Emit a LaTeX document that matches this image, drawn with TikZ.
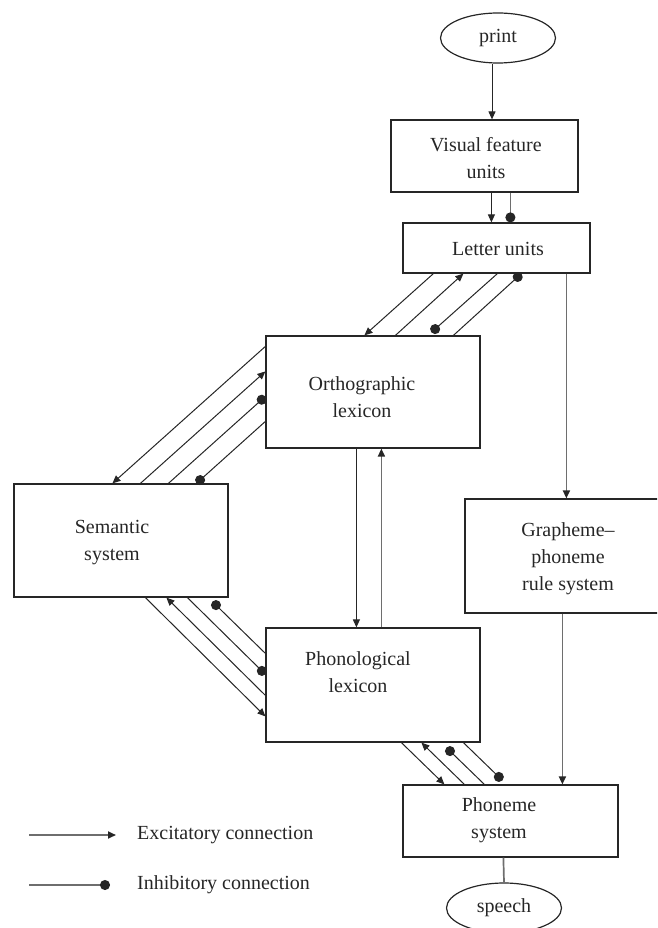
\documentclass[tikz,border=0pt]{standalone}
\usepackage{fontspec}
\setmainfont{Liberation Serif}
\usetikzlibrary{arrows.meta,calc,shapes.geometric}

\definecolor{ink}{HTML}{262626}
\definecolor{greyline}{HTML}{6E6E6E}

\begin{document}
\begin{tikzpicture}[x=1pt,y=-1pt,
  box/.style={draw=ink, line width=1.2pt, rectangle, inner sep=0pt},
  oval/.style={draw=ink, line width=1.2pt, ellipse, minimum width=115pt,
    minimum height=50pt, inner sep=0pt, font=\fontsize{20}{27}\selectfont, text=ink},
  lbl/.style={align=center, font=\fontsize{20}{27}\selectfont, text=ink, inner sep=0pt},
  exc/.style={draw=ink, line width=1pt, -{Triangle[length=8pt,width=7pt,color=ink]}},
  inh/.style={draw=ink, line width=1pt, -{Circle[length=10pt,color=ink]}},
  gexc/.style={exc, draw=greyline, line width=1.7pt},
  ginh/.style={inh, draw=greyline, line width=1.7pt},
  plain/.style={draw=greyline, line width=1.7pt},
]
\clip (0,0) rectangle (657,928);

% --- units and systems
\node[oval] (pr) at (498,38) {print};
\node[box, minimum width=187pt, minimum height=72pt] (vf) at (484.5,156) {};
\node[lbl] (vft) at (486,158.5) {Visual feature\\units};
\node[box, minimum width=187pt, minimum height=50pt] (lu) at (496.5,248) {};
\node[lbl] (lut) at (498,249) {Letter units};
\node[box, minimum width=214pt, minimum height=112pt] (ol) at (373,392) {};
\node[lbl] (olt) at (362,397) {Orthographic\\lexicon};
\node[box, minimum width=214pt, minimum height=113pt] (ss) at (121,540.5) {};
\node[lbl] (sst) at (112,543) {Semantic\\system};
\node[box, minimum width=200pt, minimum height=114pt] (gp) at (565,556) {};
\node[lbl] (gpt) at (568,559) {Grapheme–\\phoneme\\rule system};
\node[box, minimum width=214pt, minimum height=114pt] (pl) at (373,685) {};
\node[lbl] (plt) at (358,672) {Phonological\\lexicon};
\node[box, minimum width=215pt, minimum height=72pt] (ps) at (510.5,821) {};
\node[lbl] (pst) at (499,820) {Phoneme\\system};
\node[oval] (sp) at (504,908) {speech};

% --- vertical pathway
\draw[exc] ([xshift=-6pt]pr.south) -- ([xshift=-6pt]pr.south |- vf.north);
\draw[exc] ($(vf.south west)+(101,0)$) -- ($(lu.north west)+(89,0)$);
\draw[ginh] ($(vf.south west)+(120,0)$) -- ($(lu.north west)+(108,0)$);
\draw[gexc] ($(lu.south west)+(164,0)$) -- ($(gp.north west)+(102,0)$);
\draw[gexc] ($(gp.south west)+(98,0)$) -- ($(ps.north west)+(160,0)$);
\draw[exc] ($(ol.south west)+(91,0)$) -- ($(pl.north west)+(91,0)$);
\draw[gexc] ($(pl.north west)+(116,0)$) -- ($(ol.south west)+(116,0)$);
\draw[plain] ($(ps.south west)+(101,0)$) -- (sp.north);

% --- letter units <-> orthographic lexicon
\draw[exc] ($(lu.south west)+(31,0)$) -- ($(ol.north west)+(99,0)$);
\draw[exc] ($(ol.north west)+(130,0)$) -- ($(lu.south west)+(61,0)$);
\draw[inh] ($(lu.south west)+(95,0)$) -- ($(ol.north west)+(166,-3)$);
\draw[inh] ($(ol.north west)+(188,0)$) -- ($(lu.south west)+(119,0)$);

% --- orthographic lexicon <-> semantic system
\draw[exc] ($(ol.north west)+(0,11)$) -- ($(ss.north west)+(99,0)$);
\draw[exc] ($(ss.north west)+(127,0)$) -- ($(ol.north west)+(0,36)$);
\draw[inh] ($(ss.north west)+(155,0)$) -- ($(ol.north west)+(0,61)$);
\draw[inh] ($(ol.north west)+(0,86)$) -- ($(ss.north west)+(183,0)$);

% --- semantic system <-> phonological lexicon
\draw[exc] ($(ss.south west)+(132,0)$) -- ($(pl.north west)+(0,89)$);
\draw[exc] ($(pl.north west)+(0,68)$) -- ($(ss.south west)+(153,0)$);
\draw[inh] ($(ss.south west)+(174,0)$) -- ($(pl.north west)+(0,47)$);
\draw[inh] ($(pl.north west)+(0,26)$) -- ($(ss.south west)+(199,4)$);

% --- phonological lexicon <-> phoneme system
\draw[exc] ($(pl.south west)+(136,0)$) -- ($(ps.north west)+(42,0)$);
\draw[exc] ($(ps.north west)+(62,0)$) -- ($(pl.south west)+(156,0)$);
\draw[inh] ($(ps.north west)+(82,0)$) -- ($(pl.south west)+(181,5)$);
\draw[inh] ($(pl.south west)+(198,0)$) -- ($(ps.north west)+(100,-4)$);

% --- key
\coordinate (e0) at (29,835);
\coordinate (i0) at (29,885);
\node[lbl, anchor=west] (le) at (137,835) {Excitatory connection};
\node[lbl, anchor=west] (li) at (137,885) {Inhibitory connection};
\draw[gexc] (e0) -- ([xshift=-21pt]le.west);
\draw[ginh] (i0) -- ([xshift=-27pt]li.west);
\end{tikzpicture}
\end{document}
